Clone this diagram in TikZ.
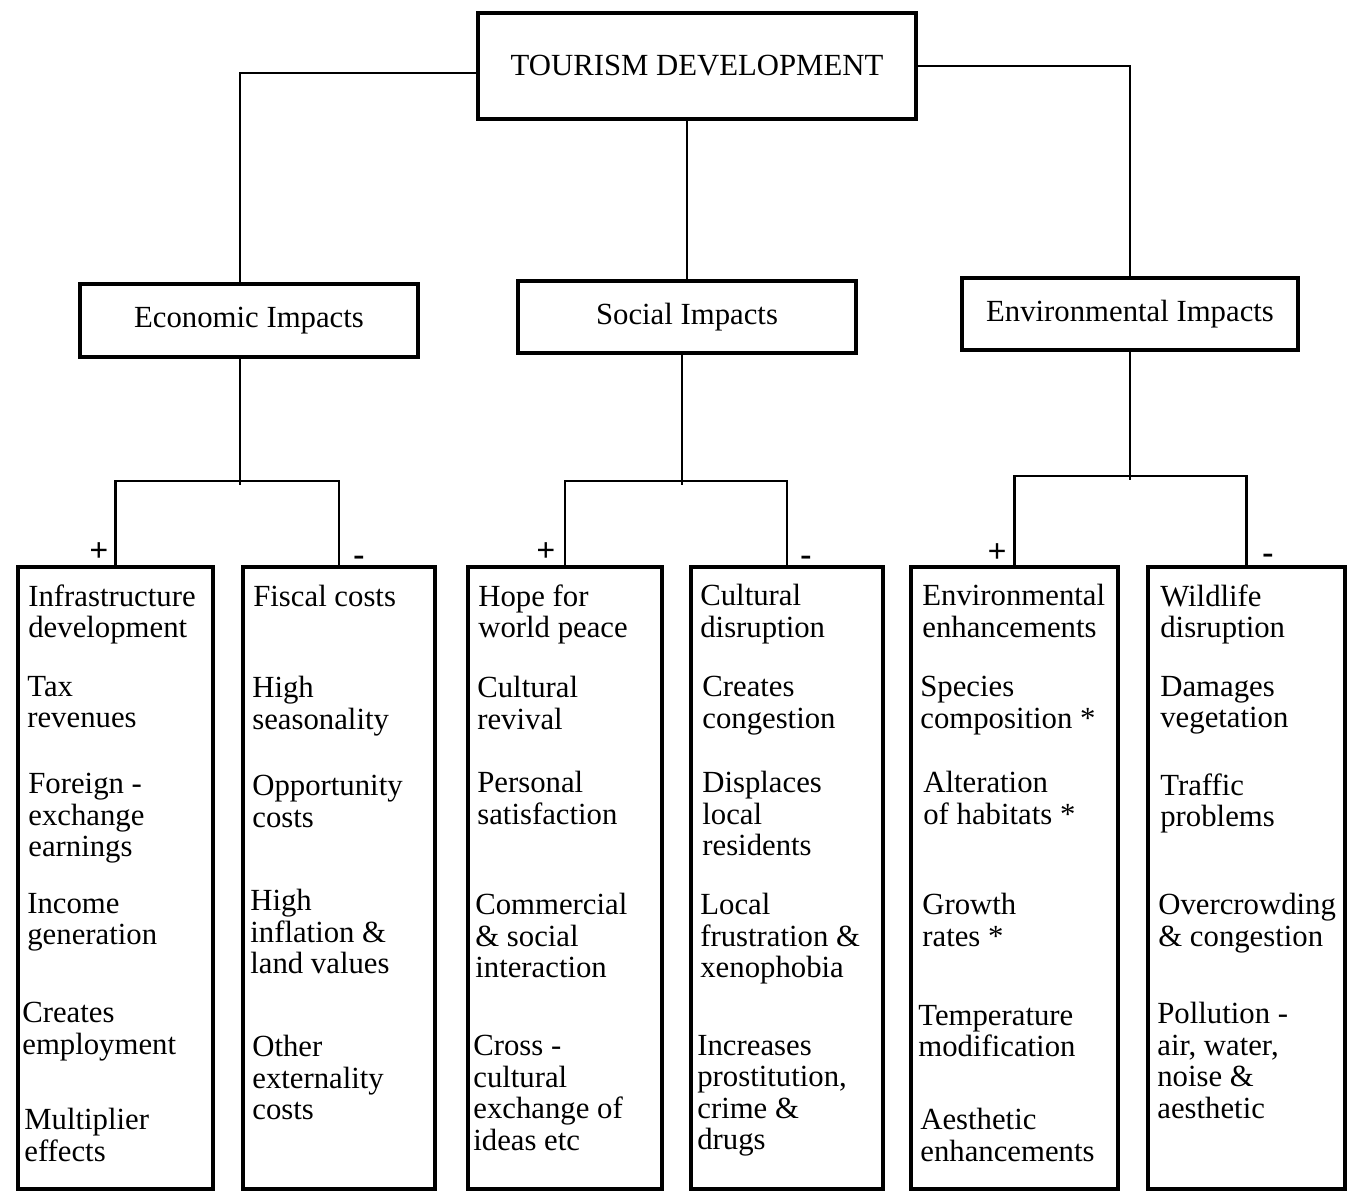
\documentclass[tikz,border=0pt]{standalone}
\usepackage{fontspec}
\setmainfont{Liberation Serif}

\begin{document}
\begin{tikzpicture}[x=0.02cm, y=-0.02cm,
  head node/.style={rectangle,draw,line width=2.2pt,inner sep=0pt,font=\fontsize{17.5}{20}\selectfont},
  col node/.style={rectangle,draw,line width=2.6pt,inner sep=0pt,minimum height=12.44cm},
  item node/.style={anchor=north west,align=left,inner sep=0pt,font=\fontsize{17.5}{17.9}\selectfont,execute at begin node=\strut},
  sign node/.style={inner sep=0pt,font=\fontsize{19}{19}\selectfont\bfseries},
  link/.style={line width=1.3pt}]
\useasboundingbox (0,0) rectangle (1355,1192);
% heads
\node[head node,minimum width=8.76cm,minimum height=2.12cm] (tour) at (697,66) {TOURISM DEVELOPMENT};
\node[head node,minimum width=6.76cm,minimum height=1.46cm] (econ) at (249,320.5) {Economic Impacts};
\node[head node,minimum width=6.76cm,minimum height=1.44cm] (soc) at (687,317) {Social Impacts};
\node[head node,minimum width=6.72cm,minimum height=1.44cm] (env) at (1130,314) {Environmental Impacts};
% columns
\node[col node,minimum width=3.9cm] (epos) at (115.5,878) {};
\node[col node,minimum width=3.84cm] (eneg) at (339,878) {};
\node[col node,minimum width=3.88cm] (spos) at (565,878) {};
\node[col node,minimum width=3.84cm] (sneg) at (787,878) {};
\node[col node,minimum width=4.14cm] (vpos) at (1014.5,878) {};
\node[col node,minimum width=3.94cm] (vneg) at (1246.5,878) {};
% signs
\node[sign node] (eplus) at (99,552) {+};
\node[sign node] (eminus) at (359,561) {-};
\node[sign node] (splus) at (546,552) {+};
\node[sign node] (sminus) at (806,561) {-};
\node[sign node] (vplus) at (997,553) {+};
\node[sign node] (vminus) at (1268,559) {-};
% connectors
\draw[link] ([yshift=-4pt]tour.west) -| ([xshift=-5pt]econ.north);
\draw[link] (soc.north |- tour.south) -- (soc.north);
\draw[link] (tour.east) -| (env.north);
\draw[link] ([xshift=-5pt]econ.south) -- ++(0,126);
\draw[link] (epos.north) -- ++(0,-84) -| (eneg.north);
\draw[link] ([xshift=-3pt]soc.south) -- ++(0,130);
\draw[link] (spos.north) -- ++(0,-84) -| (sneg.north);
\draw[link] (env.south) -- ++(0,128);
\draw[link] (vpos.north) -- ++(0,-89) -| (vneg.north);
% economic +
\node[item node] (epos1) at (28,584) {Infrastructure\\development};
\node[item node] (epos2) at (27,676) {Tax\\revenues};
\node[item node] (epos3) at (28,773) {Foreign -\\exchange\\earnings};
\node[item node] (epos4) at (27,893) {Income\\generation};
\node[item node] (epos5) at (22,1002) {Creates\\employment};
\node[item node] (epos6) at (24,1108) {Multiplier\\effects};
% economic -
\node[item node] (eneg1) at (253,584) {Fiscal costs};
\node[item node] (eneg2) at (252,676) {High\\seasonality};
\node[item node] (eneg3) at (252,775) {Opportunity\\costs};
\node[item node] (eneg4) at (250,889) {High\\inflation \&\\land values};
\node[item node] (eneg5) at (252,1035) {Other\\externality\\costs};
% social +
\node[item node] (spos1) at (478,584) {Hope for\\world peace};
\node[item node] (spos2) at (477,676) {Cultural\\revival};
\node[item node] (spos3) at (477,771) {Personal\\satisfaction};
\node[item node] (spos4) at (475,893) {Commercial\\\& social\\interaction};
\node[item node] (spos5) at (473,1035) {Cross -\\cultural\\exchange of\\ideas etc};
% social -
\node[item node] (sneg1) at (700,584) {Cultural\\disruption};
\node[item node] (sneg2) at (702,676) {Creates\\congestion};
\node[item node] (sneg3) at (702,771) {Displaces\\local\\residents};
\node[item node] (sneg4) at (700,893) {Local\\frustration \&\\xenophobia};
\node[item node] (sneg5) at (697,1035) {Increases\\prostitution,\\crime \&\\drugs};
% environmental +
\node[item node] (vpos1) at (922,584) {Environmental\\enhancements};
\node[item node] (vpos2) at (920,676) {Species\\composition *};
\node[item node] (vpos3) at (923,771) {Alteration\\of habitats *};
\node[item node] (vpos4) at (922,893) {Growth\\rates *};
\node[item node] (vpos5) at (918,1005) {Temperature\\modification};
\node[item node] (vpos6) at (920,1108) {Aesthetic\\enhancements};
% environmental -
\node[item node] (vneg1) at (1160,584) {Wildlife\\disruption};
\node[item node] (vneg2) at (1160,676) {Damages\\vegetation};
\node[item node] (vneg3) at (1160,773) {Traffic\\problems};
\node[item node] (vneg4) at (1158,893) {Overcrowding\\\& congestion};
\node[item node] (vneg5) at (1157,1002) {Pollution -\\air, water,\\noise \&\\aesthetic};
\end{tikzpicture}
\end{document}
